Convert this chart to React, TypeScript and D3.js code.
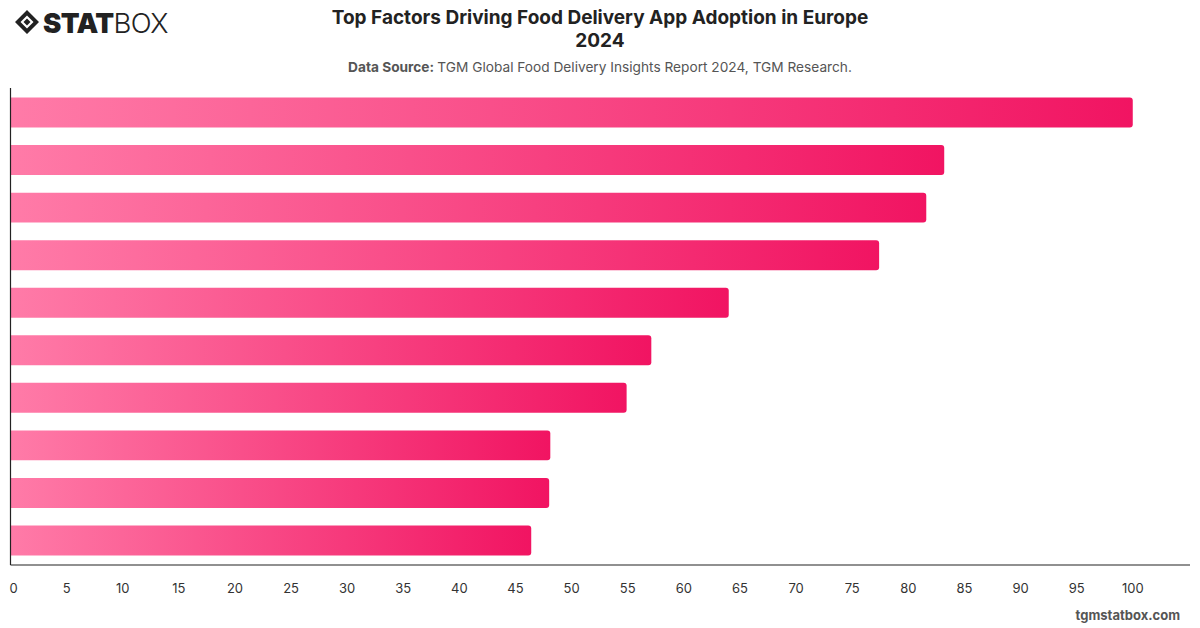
import React, { useEffect, useRef } from 'react';
import * as d3 from 'd3';

// bar order top -> bottom (category labels are not shown in the chart)
const factors = [
  'Convenience',
  'Time saving',
  'Wide restaurant choice',
  'Discounts and promotions',
  'Fast delivery',
  'Easy payment',
  'Contactless delivery',
  'Order tracking',
  'Loyalty rewards',
  'Reviews and ratings',
];
const scores = [100, 83.2, 81.6, 77.4, 64.0, 57.1, 54.9, 48.1, 48.0, 46.4];
const xTicks = [0, 5, 10, 15, 20, 25, 30, 35, 40, 45, 50, 55, 60, 65, 70, 75, 80, 85, 90, 95, 100];

const FONT = 'Inter, "Noto Sans", sans-serif';

const App = () => {
  const svgRef = useRef<SVGSVGElement | null>(null);

  useEffect(() => {
    const W = 1200;
    const H = 628;
    const svg = d3.select(svgRef.current).attr('width', W).attr('height', H);
    svg.selectAll('*').remove();

    const margin = { top: 88, right: 10, bottom: 63, left: 10.5 };

    const x = d3.scaleLinear().domain([0, 105.1]).range([margin.left, W - margin.right]);
    const y = d3.scaleBand<string>()
      .domain(factors)
      .range([margin.top, H - margin.bottom])
      .paddingInner(0.37)
      .paddingOuter(0.2);

    const defs = svg.append('defs');
    const grad = defs.append('linearGradient')
      .attr('id', 'barGrad')
      .attr('x1', '0%').attr('x2', '100%')
      .attr('y1', '0%').attr('y2', '0%');
    grad.append('stop').attr('offset', '0%').attr('stop-color', '#ff7ba8');
    grad.append('stop').attr('offset', '100%').attr('stop-color', '#f11462');

    const data = factors.map((f, i) => ({ f, v: scores[i] }));

    // bars: rounded on the right end only
    const r = 3;
    svg.append('g')
      .selectAll('path')
      .data(data)
      .join('path')
      .attr('fill', 'url(#barGrad)')
      .attr('d', d => {
        const x0 = x(0);
        const x1 = x(d.v);
        const y0 = y(d.f) as number;
        const h = y.bandwidth();
        return `M${x0},${y0}H${x1 - r}Q${x1},${y0} ${x1},${y0 + r}V${y0 + h - r}Q${x1},${y0 + h} ${x1 - r},${y0 + h}H${x0}Z`;
      });

    // axes lines
    const axisY = H - margin.bottom;
    svg.append('line')
      .attr('x1', x(0)).attr('x2', x(0))
      .attr('y1', margin.top).attr('y2', axisY)
      .attr('stroke', '#222').attr('stroke-width', 1.2);
    svg.append('line')
      .attr('x1', x(0)).attr('x2', W - margin.right)
      .attr('y1', axisY).attr('y2', axisY)
      .attr('stroke', '#222').attr('stroke-width', 1.2);

    svg.append('g')
      .selectAll('text')
      .data(xTicks)
      .join('text')
      .attr('x', d => x(d) + (d === 0 ? 3 : 0))
      .attr('y', axisY + 28)
      .attr('text-anchor', 'middle')
      .attr('font-family', FONT)
      .attr('font-size', 13)
      .attr('fill', '#333')
      .text(d => d);

    // title + source
    svg.append('text')
      .attr('x', 600).attr('y', 24)
      .attr('text-anchor', 'middle')
      .attr('font-family', FONT).attr('font-weight', 700).attr('font-size', 19)
      .attr('fill', '#222')
      .text('Top Factors Driving Food Delivery App Adoption in Europe');
    svg.append('text')
      .attr('x', 600).attr('y', 47)
      .attr('text-anchor', 'middle')
      .attr('font-family', FONT).attr('font-weight', 700).attr('font-size', 19)
      .attr('fill', '#222')
      .text('2024');
    const src = svg.append('text')
      .attr('x', 600).attr('y', 72)
      .attr('text-anchor', 'middle')
      .attr('font-family', FONT).attr('font-size', 13.7)
      .attr('fill', '#555');
    src.append('tspan').attr('font-weight', 700).text('Data Source: ');
    src.append('tspan').text('TGM Global Food Delivery Insights Report 2024, TGM Research.');

    // watermark
    svg.append('text')
      .attr('x', 1180).attr('y', 620)
      .attr('text-anchor', 'end')
      .attr('font-family', FONT).attr('font-weight', 700).attr('font-size', 13)
      .attr('fill', '#555')
      .text('tgmstatbox.com');

    // logo
    const logo = svg.append('g').attr('transform', 'translate(15,10)');
    logo.append('path')
      .attr('d', 'M12,0 L24,12 L12,24 L0,12 Z M12,5.5 L5.5,12 L12,18.5 L18.5,12 Z')
      .attr('fill', '#222').attr('fill-rule', 'evenodd');
    logo.append('path').attr('d', 'M12,8.5 L15.5,12 L12,15.5 L8.5,12 Z').attr('fill', '#222');
    const lt = logo.append('text')
      .attr('x', 28).attr('y', 22.5)
      .attr('font-family', FONT).attr('font-size', 27.5)
      .attr('fill', '#222')
      .attr('letter-spacing', -0.6);
    lt.append('tspan').attr('font-weight', 900).text('STAT');
    lt.append('tspan').attr('font-weight', 300).text('BOX');
  }, []);

  return <svg ref={svgRef} style={{ display: 'block', position: 'absolute', left: 0, top: 0 }}></svg>;
};

export default App;
